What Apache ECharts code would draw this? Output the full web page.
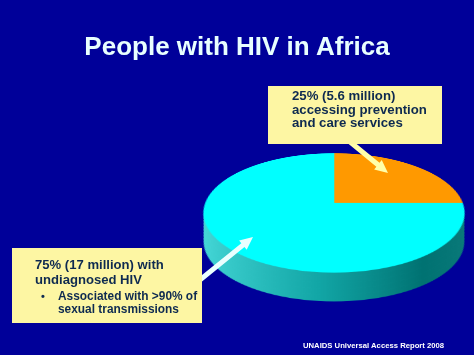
<!DOCTYPE html>
<html><head><meta charset="utf-8">
<script src="https://cdn.jsdelivr.net/npm/echarts@6/dist/echarts.min.js"></script>
<style>
html,body{margin:0;padding:0;background:#000099;width:474px;height:355px;overflow:hidden}
.pie{position:absolute;left:183.5px;top:53px;width:300px;height:300px;transform-origin:150px 150px}
#main{position:absolute;left:0;top:0;width:474px;height:355px}
</style></head><body>
<div id="pies"></div>
<div id="main"></div>
<script>
// ---- data ----
const categories = ['Accessing prevention and care services', 'Undiagnosed HIV'];
const shares = [25, 75];
const millions = [5.6, 17];
const sliceColors = ['#ff9900', '#00ffff'];
const titleText = 'People with HIV in Africa';
const noteTop = ['25% (5.6 million)', 'accessing prevention', 'and care services'];
const noteBottom = ['75% (17 million) with', 'undiagnosed HIV'];
const noteBullet = ['Associated with >90% of', 'sexual transmissions'];
const sourceText = 'UNAIDS Universal Access Report 2008';

// ---- 3D pie (perspective-tilted pie series) ----
const PIE_R = 128.5, TILT = 63.2, PERSP = 694, DEPTH = 29;
const sideGradient = {type:'linear', x:150-PIE_R, y:0, x2:150+PIE_R, y2:0, global:true,
  colorStops:[{offset:0,color:'#46d8d8'},{offset:0.45,color:'#12a6a6'},{offset:0.8,color:'#007272'},{offset:1,color:'#0a7a7a'}]};

function pieLayer(shift, isTop){
  const d = document.createElement('div');
  d.className = 'pie';
  d.style.transform = `translateY(${shift}px) perspective(${PERSP}px) rotateX(${TILT}deg)`;
  document.getElementById('pies').appendChild(d);
  const c = echarts.init(d, null, {renderer:'canvas', devicePixelRatio:2});
  c.setOption({
    animation:false,
    series:[{
      type:'pie', silent:true, center:['50%','50%'], radius:[0, PIE_R],
      startAngle:90, clockwise:true,
      label:{show:false}, labelLine:{show:false}, emphasis:{disabled:true},
      data: categories.map((n,i)=>{
        const col = isTop ? sliceColors[i] : sideGradient;
        return {name:n, value:shares[i], itemStyle:{color:col, borderColor:col, borderWidth:isTop?0.6:0}};
      })
    }]
  });
}
for (let t = DEPTH; t > 0; t -= 6) pieLayer(t, false);
pieLayer(0, true);

// ---- overlay: title, notes, arrows, source ----
function arrow(x1,y1,x2,y2,w,hl,hw,color){
  const dx=x2-x1, dy=y2-y1, L=Math.hypot(dx,dy), ux=dx/L, uy=dy/L, px=-uy, py=ux;
  const bx=x2-ux*hl, by=y2-uy*hl;
  return {type:'polygon', silent:true, shape:{points:[
    [x1+px*w/2,y1+py*w/2],[bx+px*w/2,by+py*w/2],[bx+px*hw/2,by+py*hw/2],[x2,y2],
    [bx-px*hw/2,by-py*hw/2],[bx-px*w/2,by-py*w/2],[x1-px*w/2,y1-py*w/2]]}, style:{fill:color}};
}
const FONT = '"Liberation Sans", Arial, sans-serif';
const txt = (s,x,y,size,color,align) => ({type:'text', silent:true, x, y,
  style:{text:s, fill:color, fontSize:size, fontWeight:'bold', fontFamily:FONT, align:align||'left', verticalAlign:'middle'}});
const ink = '#0e2a50';
const els = [];
els.push(arrow(349,141,388,173,5,13,12,'#ffffaa'));
els.push(arrow(190,288,253,237,5,13,12,'#eaffff'));
els.push({type:'rect', silent:true, shape:{x:268,y:86,width:174,height:58}, style:{fill:'#fdf6a3'}});
els.push({type:'rect', silent:true, shape:{x:12,y:248,width:190,height:75}, style:{fill:'#fdf6a3'}});
els.push(txt(titleText, 237, 46, 26, '#e8ffff', 'center'));
noteTop.forEach((s,i)=>els.push(txt(s, 292, 95.8 + i*13.5, 13.2, ink)));
noteBottom.forEach((s,i)=>els.push(txt(s, 35, 264.8 + i*14.7, 13.1, ink)));
els.push(txt('•', 43, 296, 11, ink, 'center'));
noteBullet.forEach((s,i)=>els.push(txt(s, 58, 296 + i*13.3, 11.9, ink)));
els.push(txt(sourceText, 303, 345, 7.7, '#ffffff'));

const main = echarts.init(document.getElementById('main'), null, {renderer:'svg'});
main.setOption({animation:false, backgroundColor:'transparent', graphic:{elements:els}});
</script>
</body></html>
